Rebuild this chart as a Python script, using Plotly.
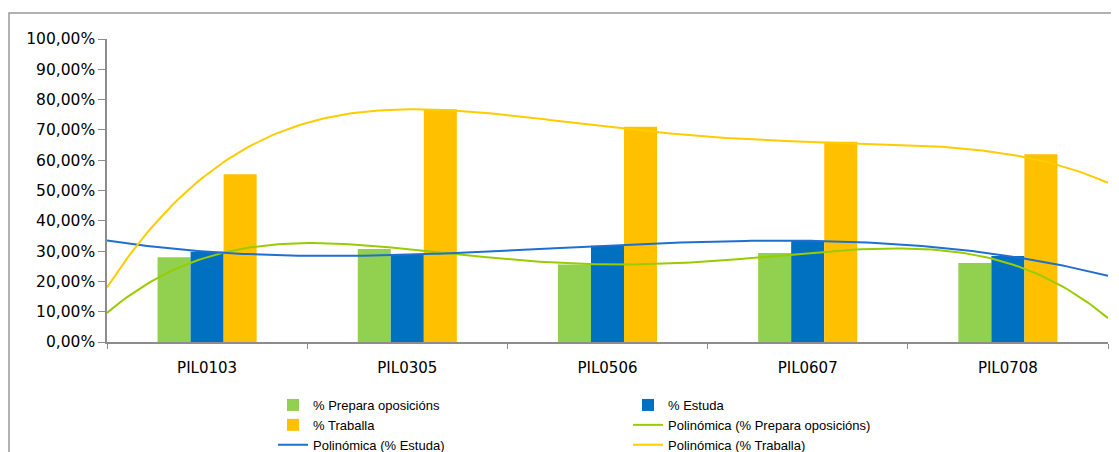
import numpy as np
import plotly.graph_objects as go

categories = ["PIL0103", "PIL0305", "PIL0506", "PIL0607", "PIL0708"]
prepara = [28.0, 30.7, 25.6, 29.35, 26.05]
estuda = [29.8, 28.8, 31.8, 33.4, 28.4]
traballa = [55.4, 76.8, 71.0, 66.1, 62.0]
y_ticks = [0, 10, 20, 30, 40, 50, 60, 70, 80, 90, 100]
y_tick_labels = ["0,00%", "10,00%", "20,00%", "30,00%", "40,00%", "50,00%",
                 "60,00%", "70,00%", "80,00%", "90,00%", "100,00%"]

bar_colors = {"prepara": "#92D050", "estuda": "#0070C0", "traballa": "#FFC000"}
line_colors = {"prepara": "#99CC00", "estuda": "#1F6FD0", "traballa": "#FFCC00"}

fig = go.Figure()
fig.add_bar(x=categories, y=prepara, name="% Prepara oposicións", marker_color=bar_colors["prepara"], marker_line_width=0)
fig.add_bar(x=categories, y=estuda, name="% Estuda", marker_color=bar_colors["estuda"], marker_line_width=0)
fig.add_bar(x=categories, y=traballa, name="% Traballa", marker_color=bar_colors["traballa"], marker_line_width=0)

# Excel polynomial (order 4) trendlines, extended half a category each side
xi = np.arange(len(categories))
xs = np.linspace(-0.5, len(categories) - 0.5, 200)
for key, vals, label in [("prepara", prepara, "Polinómica (% Prepara oposicións)"),
                         ("estuda", estuda, "Polinómica (% Estuda)"),
                         ("traballa", traballa, "Polinómica (% Traballa)")]:
    coef = np.polyfit(xi, vals, 4)
    fig.add_scatter(x=xs, y=np.polyval(coef, xs), mode="lines", name=label,
                    line=dict(color=line_colors[key], width=2), xaxis="x2")

axis_col = "#8C8C8C"
# page body has an 8px margin, so figure coords = screen coords - 8
L, T, PW, PH = 99, 31, 1001, 303
fig.update_layout(
    width=1119, height=452,
    margin=dict(l=L, r=1119 - L - PW, t=T, b=452 - T - PH, autoexpand=False),
    paper_bgcolor="white", plot_bgcolor="white",
    barmode="group", bargap=0.505, bargroupgap=0,
    font=dict(family="DejaVu Sans", size=15, color="#000000"),
    xaxis=dict(type="category", tickson="boundaries", ticks="outside", ticklen=5,
               tickcolor=axis_col, showline=True, linecolor=axis_col, linewidth=1.5,
               showgrid=False, zeroline=False, range=[-0.5, 4.5], automargin=False,
               tickfont=dict(family="DejaVu Sans", size=15), ticklabelstandoff=11),
    xaxis2=dict(overlaying="x", range=[-0.5, 4.5], visible=False),
    yaxis=dict(range=[0, 100], tickvals=y_ticks, ticktext=y_tick_labels,
               ticks="outside", ticklen=7, tickcolor=axis_col, showline=True,
               linecolor=axis_col, linewidth=1.5, showgrid=False, zeroline=False,
               automargin=False, tickfont=dict(family="DejaVu Sans", size=15.5)),
    legend=dict(orientation="h", xref="container", x=265 / 1119, xanchor="left",
                yref="container", y=1 - 382 / 452, yanchor="top",
                entrywidth=310, entrywidthmode="pixels", itemwidth=30,
                traceorder="normal",
                font=dict(family="Liberation Sans", size=13)),
    shapes=[dict(type="rect", xref="paper", yref="paper",
                 x0=(1 - L) / PW, x1=(1130 - L) / PW,
                 y0=(T + PH - 470) / PH, y1=(T + PH - 5) / PH,
                 line=dict(color="#999999", width=1.5), fillcolor="rgba(0,0,0,0)", layer="below")],
)

fig.write_html("out.html")
